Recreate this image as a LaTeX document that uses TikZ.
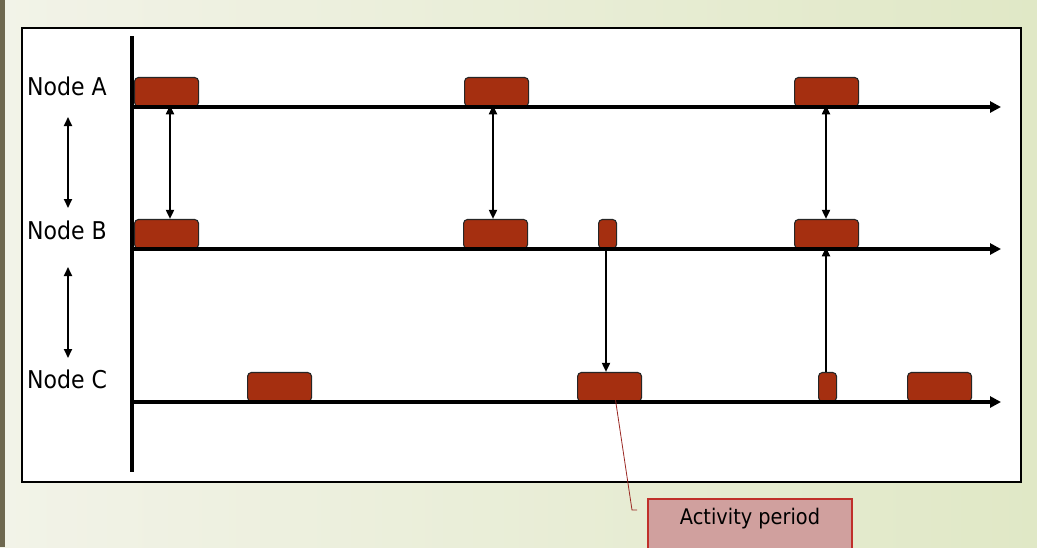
\documentclass[tikz,border=0pt]{standalone}
\usepackage{fontspec}
\setmainfont{DejaVu Sans}[FakeStretch=0.9]
\usetikzlibrary{arrows.meta}
\definecolor{bgL}{HTML}{F2F3E8}
\definecolor{bgR}{HTML}{E0E8C6}
\definecolor{strip}{HTML}{6E6850}
\definecolor{act}{HTML}{A52F10}
\definecolor{callfill}{HTML}{D0A09E}
\definecolor{callline}{HTML}{C0302A}
\tikzset{
  actbox/.style={draw=black!85, line width=1.1pt, fill=act, rounded corners=4pt, anchor=south west, inner sep=0pt, minimum height=29pt},
  wide/.style={actbox, minimum width=64pt},
  narrow/.style={actbox, minimum width=18pt},
  axis/.style={line width=3.4pt, -{Triangle[length=11pt,width=11pt]}},
  dbl/.style={line width=1.8pt, {Triangle[length=9pt,width=8pt]}-{Triangle[length=9pt,width=8pt]}},
  sgl/.style={line width=1.8pt, -{Triangle[length=9pt,width=8pt]}},
  lbl/.style={font=\fontsize{24.5}{28}\selectfont, anchor=base west, inner sep=0pt},
}
\begin{document}
\begin{tikzpicture}[x=1pt,y=-1pt]
\useasboundingbox (0,0) rectangle (1037,547);
\shade[left color=bgL, right color=bgR] (0,0) rectangle (1037,547);
\fill[strip] (0,0) rectangle (4.5,547);
\draw[line width=1.3pt, fill=white] (22,28) rectangle (1021,482);
% vertical axis
\draw[line width=3.4pt] (132,36) -- (132,472);
% horizontal axes
\coordinate (axA0) at (131,107); \coordinate (axA1) at (1001,107);
\coordinate (axB0) at (131,249); \coordinate (axB1) at (1001,249);
\coordinate (axC0) at (131,402); \coordinate (axC1) at (1001,402);
% boxes
\node[wide] (a1) at (134,107) {};
\node[wide] (a2) at (464,107) {};
\node[wide] (a3) at (794,107) {};
\node[wide] (b1) at (134,249) {};
\node[wide] (b2) at (463,249) {};
\node[narrow] (b3) at (598,249) {};
\node[wide] (b4) at (794,249) {};
\node[wide] (c1) at (247,402) {};
\node[wide] (c2) at (577,402) {};
\node[narrow] (c3) at (818,402) {};
\node[wide] (c4) at (907,402) {};
\draw[axis] (axA0) -- (axA1);
\draw[axis] (axB0) -- (axB1);
\draw[axis] (axC0) -- (axC1);
% labels
\node[lbl] (la) at (27,95) {Node A};
\node[lbl] (lb) at (27,239) {Node B};
\node[lbl] (lc) at (27,388) {Node C};
% left double arrows
\coordinate (l1) at (68,117); \coordinate (l2) at (68,208);
\coordinate (l3) at (68,267); \coordinate (l4) at (68,358);
\draw[dbl] (l1) -- (l2);
\draw[dbl] (l3) -- (l4);
% A-B exchanges
\coordinate (x1) at (170,0); \coordinate (x2) at (493,0); \coordinate (x3) at (826,0);
\coordinate (x4) at (606,0);
\draw[dbl] ([yshift=1.7pt]x1 |- a1.south) -- (x1 |- b1.north);
\draw[dbl] ([yshift=1.7pt]x2 |- a2.south) -- (x2 |- b2.north);
\draw[dbl] ([yshift=1.7pt]x3 |- a3.south) -- (x3 |- b4.north);
% B-C
\draw[sgl] ([yshift=1.7pt]x4 |- b3.south) -- (x4 |- c2.north);
\draw[sgl] (x3 |- c3.north) -- ([yshift=1.7pt]x3 |- b4.south);
% callout
\coordinate (k1) at (632,510); \coordinate (k2) at (637,510);
\draw[callline!80!black, line width=0.8pt] ([xshift=6pt,yshift=1.7pt]c2.south) -- (k1) -- (k2);
\draw[callline, line width=1.1pt, fill=callfill] (648,499) rectangle (852,552);
\node[font=\fontsize{21.5}{24}\selectfont, inner sep=0pt] (ap) at (750,519) {Activity period};
\end{tikzpicture}
\end{document}
